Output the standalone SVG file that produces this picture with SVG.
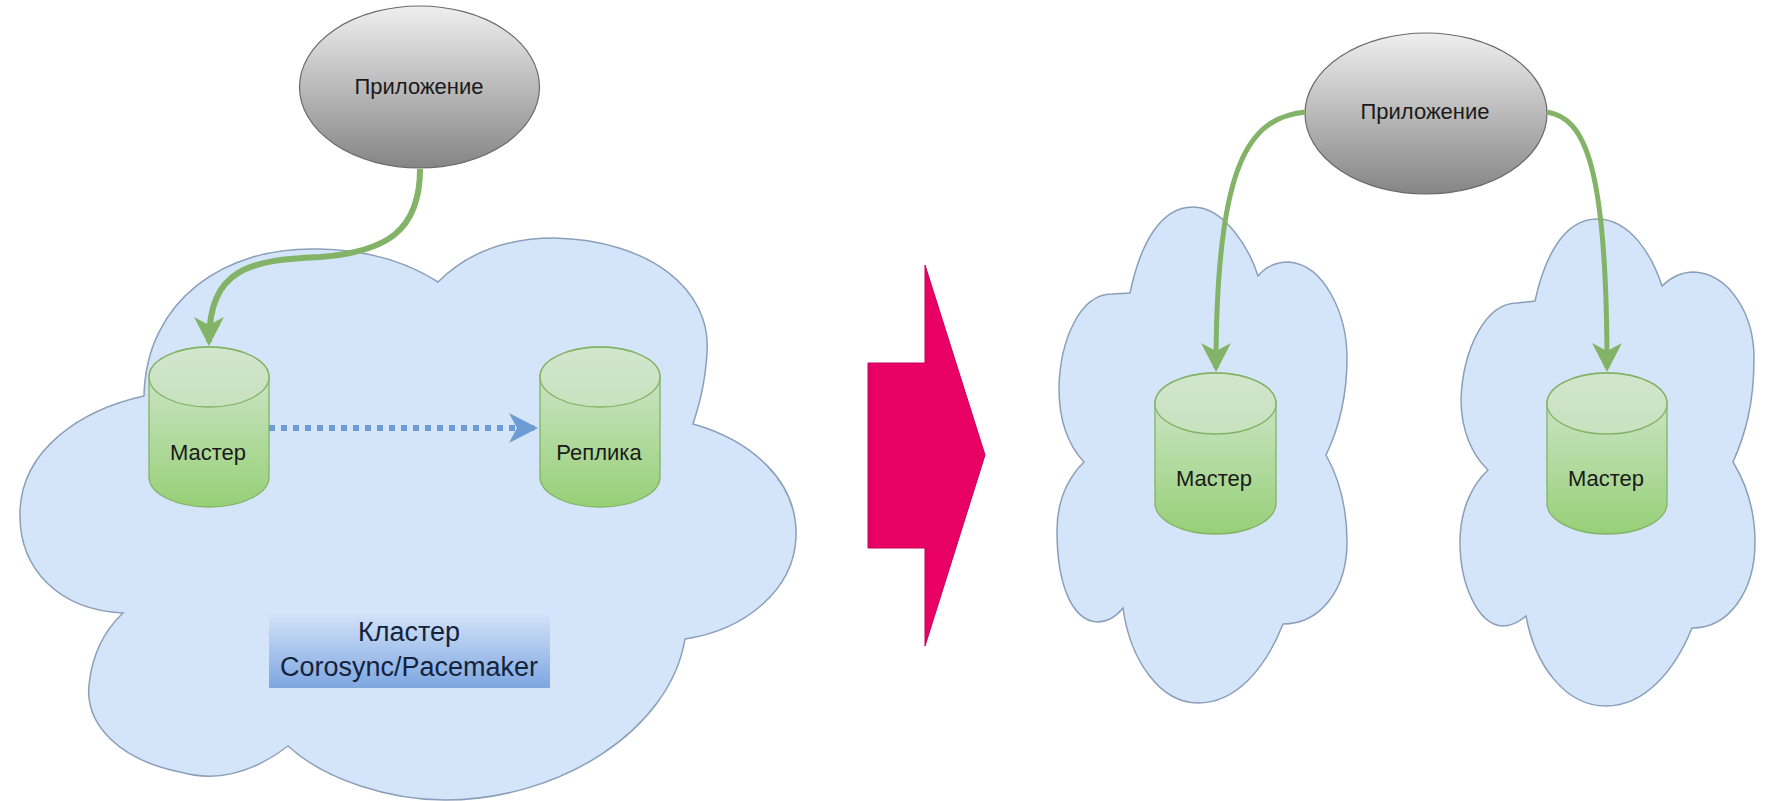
<svg xmlns="http://www.w3.org/2000/svg" width="1767" height="801" viewBox="0 0 1767 801">
<defs>
<linearGradient id="gGrey" x1="0" y1="0" x2="0" y2="1"><stop offset="0" stop-color="#efefef"/><stop offset="1" stop-color="#858585"/></linearGradient>
<linearGradient id="gGreen" x1="0" y1="0" x2="0" y2="1"><stop offset="0" stop-color="#d5e8d4"/><stop offset="1" stop-color="#97d077"/></linearGradient>
<linearGradient id="gBlue" x1="0" y1="0" x2="0" y2="1"><stop offset="0" stop-color="#d6e5fa"/><stop offset="1" stop-color="#7ea6e0"/></linearGradient>
<marker id="headG" markerUnits="userSpaceOnUse" markerWidth="32" markerHeight="32" viewBox="0 0 32 32" refX="25" refY="15" orient="auto"><path d="M0 0 L29 15 L0 30 L8 15 Z" fill="#82b366"/></marker>
<marker id="headB" markerUnits="userSpaceOnUse" markerWidth="32" markerHeight="32" viewBox="0 0 32 32" refX="25" refY="15" orient="auto"><path d="M0 0 L29 15 L0 30 L8 15 Z" fill="#6c9bd6"/></marker>
</defs>
<style>
.cloud{fill:#d5e5f9;stroke:#8b9fba;stroke-width:1.5}
.app{fill:url(#gGrey);stroke:#6a6a6a;stroke-width:1.2}
.db{fill:url(#gGreen);stroke:#82b366;stroke-width:1.3}
.dbtop{fill:#cfe4c8;fill-opacity:.55;stroke:#82b366;stroke-width:1.3}
.t{font-family:"Liberation Sans",Arial,sans-serif;font-size:22px;fill:#1a1a1a;text-anchor:middle}
.big{font-size:27px;fill:#14233c}
.link{fill:none;stroke:#82b366;stroke-width:5}
</style>
<rect width="1767" height="801" fill="#ffffff"/>

<g id="cluster-cloud">
<path class="cloud" d="M144 396 C146 300 225 246 319 249 C370 250 410 264 438 282 C470 250 510 238 554 238 C650 240 712 290 707 353 C705 385 699 405 693 424 C750 440 798 480 796 537 C794 590 745 630 685 639 C670 730 560 800 445 800 C390 800 325 780 288 746 C250 775 215 782 180 772 C120 760 85 725 89 685 C92 655 105 630 123 613 C60 610 18 570 20 511 C22 450 80 410 144 396 Z"/>
</g>
<g id="cloud-a">
<path class="cloud" d="M1193 207 C1225 207 1250 250 1258 276 C1266 266 1278 262 1289 262 C1325 265 1347 315 1347 358 C1347 400 1338 430 1326 455 C1340 480 1347 510 1347 542 C1347 590 1320 624 1283 624 C1265 670 1235 703 1198 703 C1160 703 1130 660 1123 608 C1115 618 1107 622 1097 622 C1070 620 1057 580 1057 531 C1057 500 1068 478 1084 462 C1068 445 1059 420 1059 388 C1060 340 1080 294 1112 294 L1130 293 C1140 245 1160 207 1193 207 Z"/>
</g>
<g id="cloud-b">
<path class="cloud" d="M1597 219 C1630 219 1652 255 1662 286 C1672 276 1683 272 1694 272 C1730 274 1754 315 1754 358 C1754 405 1745 435 1733 462 C1747 485 1755 510 1755 542 C1755 590 1730 628 1692 628 C1675 670 1645 706 1606 706 C1565 706 1535 665 1526 616 C1518 623 1510 626 1502 626 C1478 624 1460 585 1460 542 C1460 510 1472 485 1488 470 C1472 455 1461 430 1461 399 C1463 350 1485 303 1517 303 L1535 301 C1545 255 1565 219 1597 219 Z"/>
</g>

<g id="transition-arrow">
<polygon points="868,363 925,363 925,265 985,455 925,646 925,548 868,548" fill="#e80064" stroke="#c8005a" stroke-width="1"/>
</g>

<g id="app-left">
<ellipse class="app" cx="419.5" cy="87" rx="120" ry="81"/>
<text class="t" x="419" y="94">Приложение</text>
</g>
<g id="master-left">
<path class="db" d="M149 377 A60 30 0 0 1 269 377 V477 A60 30 0 0 1 149 477 Z"/>
<ellipse class="dbtop" cx="209" cy="377" rx="60" ry="30"/>
<text class="t" x="208" y="460">Мастер</text>
</g>
<g id="replica-left">
<path class="db" d="M540 377 A60 30 0 0 1 660 377 V477 A60 30 0 0 1 540 477 Z"/>
<ellipse class="dbtop" cx="600" cy="377" rx="60" ry="30"/>
<text class="t" x="599" y="460">Реплика</text>
</g>
<g id="cluster-label">
<rect x="269" y="611" width="281" height="77" fill="url(#gBlue)"/>
<text class="t big" x="409" y="641">Кластер</text>
<text class="t big" x="409" y="676">Corosync/Pacemaker</text>
</g>

<g id="app-right">
<ellipse class="app" cx="1426" cy="113.5" rx="121" ry="80.5"/>
<text class="t" x="1425" y="119">Приложение</text>
</g>
<g id="master-right-a">
<path class="db" d="M1155 403.500 A60.500 30.500 0 0 1 1276 403.500 V503.500 A60.500 30.500 0 0 1 1155 503.500 Z"/>
<ellipse class="dbtop" cx="1215.500" cy="403.500" rx="60.500" ry="30.500"/>
<text class="t" x="1214" y="486">Мастер</text>
</g>
<g id="master-right-b">
<path class="db" d="M1547 403.500 A60 30.500 0 0 1 1667 403.500 V503.500 A60 30.500 0 0 1 1547 503.500 Z"/>
<ellipse class="dbtop" cx="1607" cy="403.500" rx="60" ry="30.500"/>
<text class="t" x="1606" y="486">Мастер</text>
</g>

<g id="connectors">
<path class="link" style="stroke-width:6" marker-end="url(#headG)" d="M420 169 C420 232 385 252 320 257 C250 260 209 268 209 342"/>
<path fill="none" stroke="#6c9bd6" stroke-width="6" stroke-dasharray="6 6" marker-end="url(#headB)" d="M269 428 H534"/>
<path class="link" marker-end="url(#headG)" d="M1305 112 C1250 118 1216 160 1216 368"/>
<path class="link" marker-end="url(#headG)" d="M1547 112 C1585 118 1607 165 1607 368"/>
</g>
</svg>
